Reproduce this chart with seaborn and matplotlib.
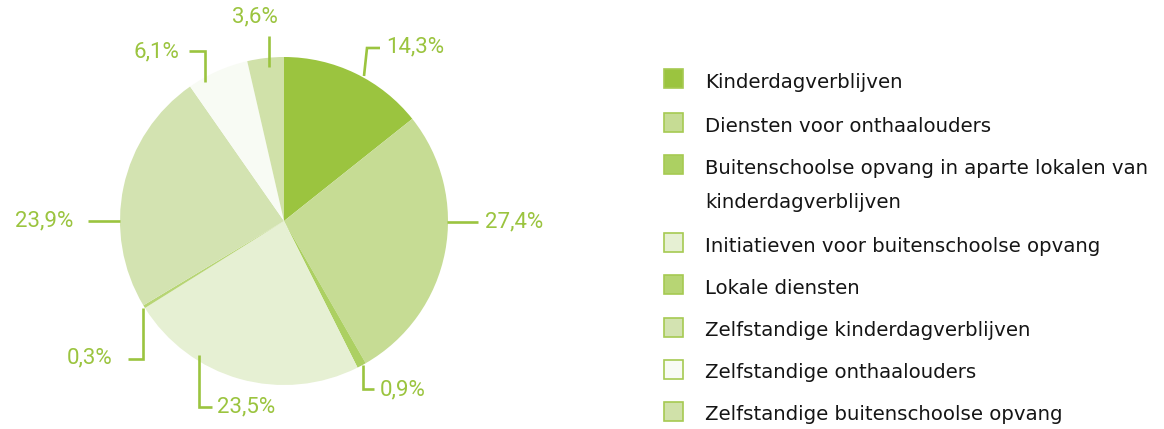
import matplotlib
matplotlib.use("Agg")
import matplotlib.pyplot as plt
from matplotlib.patches import Rectangle
import seaborn as sns
import numpy as np

# ---- data ----
categories = [
    "Kinderdagverblijven",
    "Diensten voor onthaalouders",
    "Buitenschoolse opvang in aparte lokalen van\nkinderdagverblijven",
    "Initiatieven voor buitenschoolse opvang",
    "Lokale diensten",
    "Zelfstandige kinderdagverblijven",
    "Zelfstandige onthaalouders",
    "Zelfstandige buitenschoolse opvang",
]
shares = [14.3, 27.4, 0.9, 23.5, 0.3, 23.9, 6.1, 3.6]
value_labels = ["14,3%", "27,4%", "0,9%", "23,5%", "0,3%", "23,9%", "6,1%", "3,6%"]
colors = ["#9bc43f", "#c6dc94", "#acd062", "#e6f0d3", "#b7d574", "#d3e3b1", "#f8fbf4", "#d0e1a9"]

# ---- layout (pixels) ----
W, H = 1164, 429
CX, CY, R = 284, 221, 164
ACCENT = "#9bc43f"
# leader polylines and label anchors (x, y, ha)
leaders = [
    [(364, 76), (367, 48), (380, 48)],
    [(447, 222), (478, 222)],
    [(363, 365), (363, 389), (374, 389)],
    [(199, 355), (199, 407), (212, 407)],
    [(143, 308), (143, 359), (128, 359)],
    [(120, 221), (88, 221)],
    [(205, 82), (205, 51), (189, 51)],
    [(269, 67), (269, 36)],
]
label_pos = [
    (386, 47, "left"), (485, 222, "left"), (380, 390, "left"), (217, 407, "left"),
    (113, 358, "right"), (73, 221, "right"), (179, 52, "right"), (255, 17, "center"),
]
legend_x_box, legend_x_text, legend_box = 664, 705, 19
legend_rows = [78, 122, 164, 242, 284, 327, 369, 411]
legend_line_gap = 34

sns.set_theme(style="white")
plt.rcParams["font.family"] = ["Roboto", "DejaVu Sans"]

fig = plt.figure(figsize=(W / 100, H / 100), dpi=100)
ax = fig.add_axes([0, 0, 1, 1])

ax.pie(shares, colors=colors, startangle=-90, counterclock=True,
       center=(CX, CY), radius=R, frame=True,
       wedgeprops=dict(linewidth=0, edgecolor="none", antialiased=True))

ax.set_xlim(0, W)
ax.set_ylim(H, 0)
ax.set_aspect("equal")
ax.axis("off")

for pts, (tx, ty, ha), lab in zip(leaders, label_pos, value_labels):
    xs, ys = zip(*pts)
    ax.plot(xs, ys, color=ACCENT, lw=1.9, solid_joinstyle="miter", solid_capstyle="butt")
    ax.text(tx, ty, lab, color=ACCENT, fontsize=16, ha=ha, va="center",
            family=["Roboto", "DejaVu Sans"])

for y, cat, col in zip(legend_rows, categories, colors):
    ax.add_patch(Rectangle((legend_x_box, y - legend_box / 2), legend_box, legend_box,
                           facecolor=col, edgecolor="#a6ca52", lw=1.2))
    for i, line in enumerate(cat.split("\n")):
        ax.text(legend_x_text, y + legend_box / 2 + i * legend_line_gap, line,
                color="#151515", fontsize=14.2, ha="left", va="baseline",
                family=["DejaVu Sans"])

fig.savefig("out.png", dpi=100, facecolor="white")
